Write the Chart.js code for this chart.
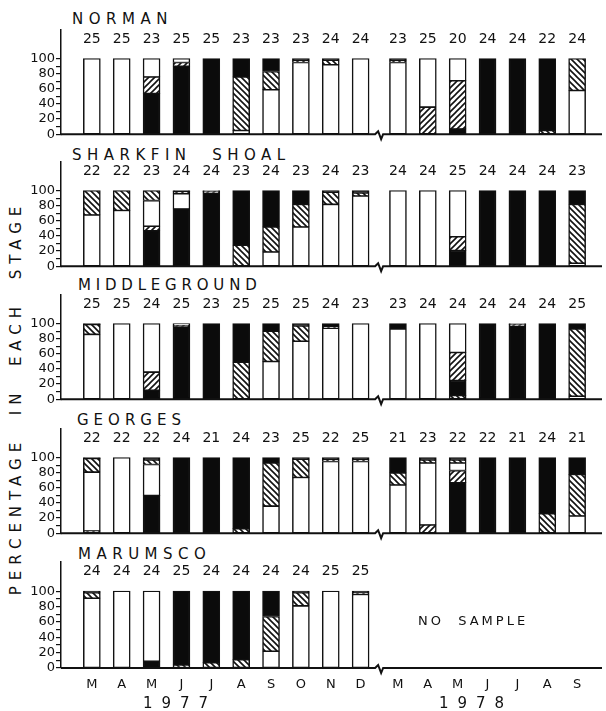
<!DOCTYPE html>
<html lang="en">
<head>
<meta charset="UTF-8">
<title>Stage composition by site, 1977-1978</title>
<script src="https://cdn.jsdelivr.net/npm/chart.js"></script>
<style>
    body { margin: 0; background: #fff; color: #111; font-family: "DejaVu Sans", sans-serif; }
    #fig { position: relative; width: 606px; height: 711px; overflow: hidden; }
    canvas { position: absolute; left: 0; }
    .site { position: absolute; font-size: 15px; line-height: 16px; letter-spacing: 5.5px; white-space: pre; }
    .year { position: absolute; top: 694px; font-size: 15px; line-height: 18px; letter-spacing: 9px; transform: translateX(-50%); }
    #ytitle { position: absolute; left: 16px; top: 398px; font-size: 15px; letter-spacing: 6px; white-space: pre;
              transform: translate(-50%, -50%) rotate(-90deg); }
    #nosample { position: absolute; left: 418px; top: 613px; font-size: 13px; letter-spacing: 3px; white-space: pre; }
</style>
</head>
<body>
<div id="fig">
    <div id="ytitle">PERCENTAGE  IN  EACH  STAGE</div>

    <div class="site" style="left:72px; top:11px;">NORMAN</div>
    <canvas id="norman" width="606" height="127" style="top:16px;"></canvas>

    <div class="site" style="left:72px; top:147px;">SHARKFIN  SHOAL</div>
    <canvas id="sharkfin" width="606" height="127" style="top:148px;"></canvas>

    <div class="site" style="left:78px; top:277px; letter-spacing:4.8px;">MIDDLEGROUND</div>
    <canvas id="middleground" width="606" height="127" style="top:281px;"></canvas>

    <div class="site" style="left:77px; top:412px; letter-spacing:5px;">GEORGES</div>
    <canvas id="georges" width="606" height="127" style="top:415px;"></canvas>

    <div class="site" style="left:78px; top:546px;">MARUMSCO</div>
    <canvas id="marumsco" width="606" height="154" style="top:548px;"></canvas>

    <div id="nosample">NO  SAMPLE</div>
    <div class="year" style="left:180px;">1977</div>
    <div class="year" style="left:476px;">1978</div>
</div>

<script>
    // months sampled, 1977 (Mar-Dec) then 1978 (Mar-Sep); small gap at the year break
    const months = ['M','A','M','J','J','A','S','O','N','D','M','A','M','J','J','A','S'];
    const monthPos = [0,1,2,3,4,5,6,7,8,9,10.25,11.25,12.25,13.25,14.25,15.25,16.25];

    // number of individuals examined per month
    const normanN   = [25,25,23,25,25,23,23,23,24,24,23,25,20,24,24,22,24];
    const sharkfinN = [22,22,23,24,24,23,24,23,24,23,24,24,25,24,24,24,23];
    const middleN   = [25,25,24,25,23,25,25,25,24,23,23,24,24,24,24,24,25];
    const georgesN  = [22,22,22,24,21,24,23,25,22,25,21,23,22,22,21,24,21];
    const marumscoN = [24,24,24,25,24,24,24,24,25,25];

    // percent in each stage, segments listed bottom to top
    // W = white, B = hatched (\\\), K = black, F = hatched (///)
    const normanBars = ['W100','W100','K54 F22 W24','K90 F5 W5','K100','W5 B71 K24','W59 B24 K17','W95 B3 K2','W92 B6 K2','W100',
                        'W95 B3 K2','F36 W64','K7 F64 W29','K100','K100','B5 K95','W58 B42'];
    const sharkfinBars = ['W68 B32','W74 B26','K47 F6 W34 B13','K76 W20 B3 K1','K97 F2 W1','B28 K72','W19 B33 K48','W52 B30 K18','W82 B16 K2','W93 B4 K3',
                          'W100','W100','K21 F18 W61','K100','K100','K100','W4 B78 K18'];
    const middleBars = ['W86 B13 K1','W100','K12 F24 W64','K96 F2 W2','K100','B49 K51','W50 B40 K10','W77 B20 K3','W94 B2 K4','W100',
                        'W93 K7','W100','B5 K20 F37 W38','K100','K97 F2 W1','K100','W4 B89 K7'];
    const georgesBars = ['F3 W78 B18 K1','W100','K50 W41 B6 K3','K100','K100','B6 K94','W36 B57 K7','W74 B24 K2','W95 B3 K2','W95 B3 K2',
                         'W64 B16 K20','F11 W82 B4 K3','K67 F16 W10 B4 K3','K100','K100','B26 K74','W23 B55 K22'];
    const marumscoBars = ['W91 B7 K2','W100','K9 W91','B4 K96','B7 K93','B11 K89','W22 B45 K33','W81 B17 K2','W100','W96 B2 K2'];

    // stacking slots, bottom to top; every bar fits this order
    const SLOTS = ['B','K','F','W','B','K'];

    Chart.defaults.font.family = '"DejaVu Sans", sans-serif';
    Chart.defaults.color = '#111';

    function slotData(bars) {
        const out = SLOTS.map(() => []);
        bars.forEach((bar, i) => {
            let p = 0;
            bar.split(' ').forEach(seg => {
                const t = seg[0], v = +seg.slice(1);
                while (SLOTS[p] !== t) p++;
                out[p].push({ x: monthPos[i], y: v });
                p++;
            });
        });
        return out;
    }

    function hatch(ctx, back) {
        const c = document.createElement('canvas');
        c.width = c.height = 6;
        const g = c.getContext('2d');
        g.fillStyle = '#fff';
        g.fillRect(0, 0, 6, 6);
        g.strokeStyle = '#111';
        g.lineWidth = 1.6;
        g.beginPath();
        if (back) {
            g.moveTo(-1, -1); g.lineTo(7, 7);
            g.moveTo(5, -1); g.lineTo(7, 1);
            g.moveTo(-1, 5); g.lineTo(1, 7);
        } else {
            g.moveTo(-1, 7); g.lineTo(7, -1);
            g.moveTo(-1, 1); g.lineTo(1, -1);
            g.moveTo(5, 7); g.lineTo(7, 5);
        }
        g.stroke();
        return ctx.createPattern(c, 'repeat');
    }

    // sample sizes above the bars
    const countLabels = {
        id: 'countLabels',
        afterDatasetsDraw(chart, args, opts) {
            const { ctx, scales: { x, y } } = chart;
            ctx.save();
            ctx.font = '14px "DejaVu Sans"';
            ctx.fillStyle = '#111';
            ctx.textAlign = 'center';
            ctx.textBaseline = 'middle';
            opts.counts.forEach((n, i) => ctx.fillText(n, x.getPixelForValue(monthPos[i]), y.getPixelForValue(126)));
            ctx.restore();
        }
    };

    // heavy baseline with the zigzag break between the two years
    const baseline = {
        id: 'baseline',
        afterDatasetsDraw(chart) {
            const { ctx, chartArea, scales: { x, y } } = chart;
            const y0 = y.getPixelForValue(0);
            const xb = x.getPixelForValue(9.62);
            ctx.save();
            ctx.strokeStyle = '#111';
            ctx.lineWidth = 2;
            ctx.beginPath();
            ctx.moveTo(chartArea.left, y0);
            ctx.lineTo(xb - 4, y0);
            ctx.lineTo(xb - 1, y0 - 3);
            ctx.lineTo(xb + 2, y0 + 5);
            ctx.lineTo(xb + 4, y0);
            ctx.lineTo(chartArea.right, y0);
            ctx.stroke();
            ctx.restore();
        }
    };

    function panel(id, counts, bars, showMonths) {
        const ctx = document.getElementById(id).getContext('2d');
        const fills = { B: hatch(ctx, true), K: '#0b0b0b', F: hatch(ctx, false), W: '#ffffff' };
        const data = slotData(bars);
        return new Chart(ctx, {
            type: 'bar',
            data: {
                datasets: SLOTS.map((t, k) => ({
                    label: t + k,
                    data: data[k],
                    backgroundColor: fills[t],
                    borderColor: '#111',
                    borderWidth: { top: 1.2, bottom: 1, left: 1.5, right: 1.5 },
                    borderSkipped: false,
                    barThickness: 17
                }))
            },
            options: {
                responsive: false,
                animation: false,
                layout: { padding: { top: 14, right: 4, bottom: showMonths ? 4 : 7, left: 0 } },
                plugins: {
                    legend: { display: false },
                    tooltip: { enabled: false },
                    countLabels: { counts: counts }
                },
                scales: {
                    x: {
                        type: 'linear',
                        stacked: true,
                        min: -0.5,
                        max: 16.55,
                        display: showMonths,
                        grid: { display: false, drawTicks: false },
                        border: { display: false },
                        afterBuildTicks: axis => { axis.ticks = monthPos.map(v => ({ value: v })); },
                        afterFit: axis => { if (showMonths) axis.height = 30; },
                        ticks: {
                            autoSkip: false,
                            maxRotation: 0,
                            padding: 9,
                            font: { size: 13 },
                            callback: (v, i) => months[i]
                        }
                    },
                    y: {
                        stacked: true,
                        min: 0,
                        max: 138,
                        afterBuildTicks: axis => {
                            axis.ticks = [0,10,20,30,40,50,60,70,80,90,100].map(v => ({ value: v }));
                        },
                        afterFit: axis => { axis.width = 61; },
                        border: { display: true, color: '#111', width: 1.5 },
                        grid: { drawOnChartArea: false, drawTicks: true, tickLength: 5, color: '#111', lineWidth: 1.2 },
                        ticks: {
                            autoSkip: false,
                            padding: 1,
                            font: { size: 13 },
                            callback: v => (v % 20 === 0 ? v : '')
                        }
                    }
                }
            },
            plugins: [countLabels, baseline]
        });
    }

    panel('norman', normanN, normanBars, false);
    panel('sharkfin', sharkfinN, sharkfinBars, false);
    panel('middleground', middleN, middleBars, false);
    panel('georges', georgesN, georgesBars, false);
    panel('marumsco', marumscoN, marumscoBars, true);
</script>
</body>
</html>
